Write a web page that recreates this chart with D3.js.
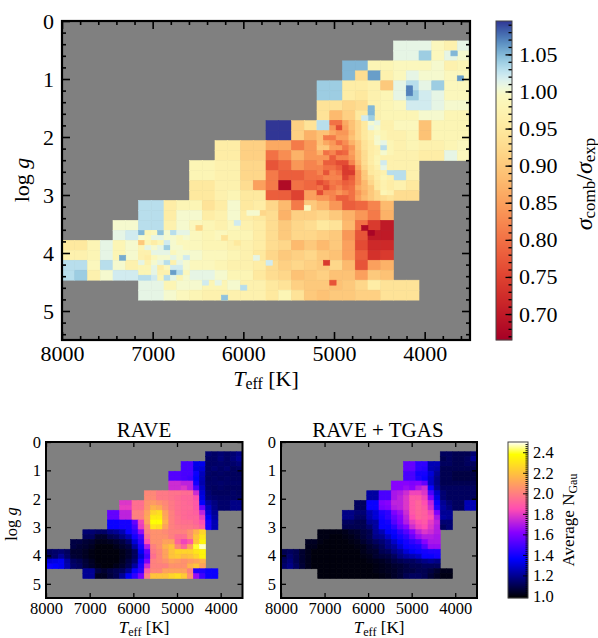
<!DOCTYPE html>
<html><head><meta charset="utf-8">
<script src="https://cdn.jsdelivr.net/npm/d3@7"></script>
<style>
html,body{margin:0;padding:0;background:#fff}
svg{display:block}
text{font-family:"Liberation Serif",serif;fill:#000}
.i{font-style:italic}
</style></head><body>
<svg id="c" width="598" height="638"></svg>
<script>
// All maps share a 32 x 32 grid over Teff 8000-3500 K, log g 0-5.5. Rows start at grid row 2.
const TEFF_RANGE=[8000,3500], LOGG_RANGE=[0,5.5], BINS=32, FIRST_ROW=2;
const teffMajor=[8000,7000,6000,5000,4000];
const loggMajor=[0,1,2,3,4,5];
const ratioTicks=[0.70,0.75,0.80,0.85,0.90,0.95,1.00,1.05];
const gauTicks=[1.0,1.2,1.4,1.6,1.8,2.0,2.2,2.4];
const titles=["RAVE","RAVE + TGAS"];

// first occupied Teff bin in each row
const commonFirstBin=[26,26,22,22,20,20,20,20,16,16,12,12,10,10,10,10,6,6,4,4,0,0,0,0,6,6];
const tgasFirstBin=[26,26,20,20,20,20,18,18,14,14,12,12,10,10,10,10,6,6,4,4,0,0,0,0,6,6];

// sigma_comb / sigma_exp x 100
const ratioRows=[
[101,101,101,99,97,101],
[101,101,104,99,101,100],
[105,105,98,98,99,99,99,100,97,98],
[105,93,106,97,99,101,100,100,99,99],
[104,104,96,96,97,90,101,103,101,104,99,99],
[104,104,96,95,97,98,101,104,102,101,99,99],
[94,94,92,93,97,98,99,102,102,101,100,100],
[94,88,91,95,97,98,98,98,100,100,98,98],
[109.5,109.5,91,94,102,80,87,92,97,98,99,99,89,98,98,98],
[109.5,109.5,91,87,89,82,86,90,97,97,97,98,89,98,98,98],
[96,96,91,91,86,86,81,84,84,81,82,88,94,97,97,98,97,97,98,99],
[96,96,91,91,80,83,87,84,84,80,82,88,95,97,97,97,96,96,101,99],
[98,98,97,97,92,92,77,79,84,82,82,80,77,82,90,95,97,97],
[98,98,97,97,92,92,81,78,78,80,79,76,78,81,89,95,103,97],
[95,95,97,97,93,85,81,68,80,79,76,78,78,83,89,95,97,95],
[95,95,97,98,95,95,78,78,75,85,82,80,80,85,90,95,93,93],
[103,103,96,98,98,94,96,100,95,96,92,88,81,90,88,84,78,79,82,88],
[103,103,96,100,100,96,97,100,96,95,93,87,91,91,92,90,87,84,81,87],
[100,100,103,103,97,100,99,98,97,99,97,96,93,90,92,93,95,94,88,80,74,70],
[101,102,102,98,102,101,99,98,99,98,98,96,93,90,92,92,91,90,84,77,70,70],
[95,95,98,101,98,100,97,97,98,99,99,98,98,97,97,96,93,92,88,90,88,90,85,76,72,72],
[97,97,98,101,98,100,97,99,101,101,100,99,99,98,97,95,92,90,91,92,90,89,85,78,73,74],
[103,103,99,103,100,97,100,98,101,100,99,99,98,97,97,96,93,91,92,91,90,92,88,77,85,87],
[103,104,97,100,102,102,103,102,97,103,101,101,100,98,98,95,93,92,89,90,91,89,89,85,90,89],
[101,101,98,100,100,98,98,100,97,97,95,94,91,90,90,89,90,92,96,94,94,94],
[101,101,100,99,98,97,97,97,97,97,95,98,94,90,89,90,90,91,91,94,94,94]
];
// finest bins (64 x 64 grid) that stand out from their neighbours: [col, row, value x 100]
const ratioFineBins=[
[54,13,107],[54,14,107],[48,17,105],[48,18,105],[48,19,104],[47,19,102],[61,6,105],[62,11,106],
[9,47,105.5],[25,55,104.5],[28,53,103],[21,41,92],[25,43,94],[27,44,95],[31,38,92],[27,40,102],
[22,52,102],[24,52,101],
[47,41,68],[48,42,67],[41,48,74],[42,52,77],[38,37,99],[29,38,100],[30,38,100],[32,48,102],[30,47,101]
];
// fine-grid blocks: the red ridge, starting at col 40, row 20
const ridgeStart=[40,20];
const ridgeBins=[
[103,103,80,80,86,89,92,95,100,101,97,97],
[103,103,84,76,85,89,92,95,101,100,97,97],
[89,89,86,84,84,88,92,95,97,99,98,97],
[89,81,81,85,85,89,92,95,97,100,98,97],
[89,86,84,80,83,87,90,94,96,100,101,98],
[90,90,85,85,81,84,90,94,96,97,103,98],
[87,80,82,78,79,85,89,93,96,97,100,98],
[84,84,78,82,82,84,89,93,96,98,97,97],
[84,78,78,76,76,82,88,93,96,98,102,97],
[82,80,80,78,74,76,86,92,95,97,101,97],
[82,77,82,80,74,74,84,90,95,96,97,103],
[80,82,82,82,75,78,84,90,93,96,98,97],
[76,78,81,80,78,79,84,88,92,95,97,96],
[80,76,80,82,79,80,86,88,90,95,97,96],
[76,82,82,84,82,80,84,87,90,92,98,97],
[84,84,82,78,78,80,85,88,90,92,93,94]
];
// fine-grid block near 7000 K, starting at col 12, row 42
const hotStart=[12,42];
const hotBins=[
[105,98,99,104.5,100,103,101,101],
[100,99,101,101,100,100,99,100],
[90,98,96,98,102,100,99,99],
[98,101,100,101,104,100,100,99],
[97,97,101,101,101,99,100,100],
[97,96,99,100,100,101,100,102],
[101,97,100,101,103,97,101,100],
[98,98,101,96,99,102,102,100],
[98,98,101,97,97,106,103,99],
[103,103,102,98,103,101,98,100]
];

// average N_Gau x 100, RAVE
const raveRows=[
[115,113,115,113,115,118],
[113,113,116,113,116,120],
[150,150,133,133,113,113,114,113,114,116],
[150,150,132,130,113,115,113,115,112,113],
[152,152,150,150,138,126,113,112,113,112,112,112],
[152,152,150,148,136,125,112,113,112,113,112,112],
[175,175,172,172,140,124,113,113,114,113,113,113],
[175,175,178,172,150,127,113,112,113,112,112,112],
[202,202,198,198,196,196,194,194,175,130,115,112,112,112,113,112],
[203,203,198,198,196,194,192,192,185,132,116,114,113,113,113,113],
[178,178,195,195,205,208,205,202,198,195,193,192,188,136,122,117,114,114,118,118],
[180,180,195,195,206,215,212,204,198,195,193,193,188,155,127,118,114,114,118,118],
[155,155,172,172,200,200,210,225,228,210,200,195,193,192,190,172,130,120],
[155,155,172,172,200,200,212,232,232,212,200,196,193,192,192,180,135,122],
[138,138,140,140,155,182,210,238,238,215,200,196,195,195,192,185,140,125],
[138,138,140,140,150,180,202,230,228,210,200,198,197,197,195,190,140,125],
[115,115,113,113,118,120,125,138,145,165,200,205,205,203,200,200,200,205,215,225],
[112,112,105,105,110,112,118,125,140,150,195,205,205,205,200,195,195,205,220,230],
[108,108,106,105,102,102,103,105,108,114,130,145,185,205,205,210,210,192,182,188,220,235],
[108,106,105,103,100,100,100,102,105,108,122,140,170,200,205,215,220,202,192,210,240,247],
[112,114,115,112,105,105,103,101,100,100,100,100,102,105,112,135,155,198,202,210,220,225,225,225,230,235],
[112,114,120,113,106,105,103,101,100,100,100,100,102,105,112,130,150,195,202,210,220,222,218,220,225,235],
[130,132,134,122,112,110,106,103,100,100,100,100,103,108,115,138,160,200,202,205,210,208,205,208,210,215],
[138,136,134,124,114,112,107,104,101,100,100,102,105,110,122,142,175,200,200,200,205,205,205,215,220,210],
[120,120,108,105,108,110,112,120,138,145,190,202,202,210,210,210,210,200,142,142,138,138],
[120,120,103,103,107,110,120,135,145,160,200,220,220,220,225,228,222,205,165,148,138,138]
];
// average N_Gau x 100, RAVE + TGAS
const tgasRows=[
[112,112,110,110,110,115],
[110,112,110,110,112,120],
[155,155,145,145,125,125,112,112,110,110,112,112],
[155,155,145,143,125,123,110,110,110,110,110,110],
[150,150,140,140,130,120,110,110,108,108,108,108],
[150,150,142,138,128,118,110,110,108,108,108,108],
[162,162,162,160,162,155,128,118,110,110,110,110,110,110],
[162,162,165,162,170,175,138,120,112,112,112,112,112,112],
[122,122,150,150,168,170,175,182,182,178,150,128,115,112,112,112,112,112],
[122,122,150,150,168,172,178,188,188,182,160,132,115,112,112,112,112,112],
[112,112,138,138,160,162,172,172,178,188,192,185,172,138,120,115,112,112,125,125],
[112,112,138,138,158,160,170,172,178,188,192,188,175,142,122,117,112,112,125,125],
[118,118,115,115,125,130,142,145,160,165,175,188,192,190,182,160,120,120],
[118,118,113,113,124,130,140,145,155,162,172,185,192,190,185,168,122,120],
[112,112,110,110,120,122,138,140,152,160,170,180,185,188,180,172,115,115],
[110,110,110,110,115,122,138,138,145,155,162,175,182,185,178,170,112,115],
[101,101,101,101,102,104,105,108,110,120,125,135,138,145,152,162,172,178,175,170],
[101,101,100,100,101,102,104,107,110,118,120,128,135,140,145,155,165,170,170,168],
[103,103,101,100,100,100,100,101,102,105,108,112,115,120,128,135,140,145,150,162,168,168],
[102,102,100,100,100,100,100,100,101,102,105,108,112,118,122,130,138,140,142,152,165,165],
[110,112,110,105,102,100,100,100,100,100,100,100,100,102,104,105,110,112,118,122,130,135,138,140,142,142],
[110,114,110,105,102,100,100,100,100,100,100,100,100,101,102,105,107,108,112,118,122,125,128,138,138,140],
[112,116,110,105,102,100,100,100,100,100,100,100,100,100,101,102,103,105,108,110,112,112,115,118,120,118],
[114,118,112,106,102,100,100,100,100,100,100,100,100,100,100,101,102,103,105,106,108,110,110,112,112,112],
[100,100,100,100,100,100,100,100,100,101,102,103,104,106,108,108,110,110,108,105,102,102],
[100,100,100,100,100,100,100,100,100,100,101,102,104,106,110,112,112,110,106,103,101,101]
];

// ---------- colours
const ratioDomain=[0.665,1.095];
const ratioT=d3.scaleLinear().domain([0.665,0.995,1.095]).range([0,0.5,1]).clamp(true);
const ratioColor=v=>d3.interpolateRdYlBu(ratioT(v));
const gauDomain=[0.98,2.5];
const gauT=d3.scaleLinear().domain(gauDomain).range([0,1]).clamp(true);
function gnuplot2(t){
  const r=Math.min(1,Math.max(0,t/0.32-0.78125));
  const g=Math.min(1,Math.max(0,2*t-0.84));
  const b=t<0.25?4*t:t<0.42?1:t<0.92?Math.max(0,-2*t+1.84):Math.min(1,t/0.08-11.5);
  return d3.rgb(r*255,g*255,b*255).formatRgb();
}
const gauColor=v=>gnuplot2(gauT(v));

// ---------- layout
const svg=d3.select("#c");
const GRAY="#808080";
const teffStep=(TEFF_RANGE[0]-TEFF_RANGE[1])/BINS, loggStep=LOGG_RANGE[1]/BINS;

function addTicks(g,x,y,w,h,o){
  const draw=(axis,tr)=>{
    const a=g.append("g").attr("transform",tr).call(axis);
    a.selectAll(".tick line").attr("stroke","#000").attr("stroke-width",o.tw);
    a.select(".domain").attr("stroke","none");
    return a;
  };
  const blank=()=>"";
  const sides=[[d3.axisBottom,x,`translate(0,${h})`,o.xMinor,o.xMajor],[d3.axisTop,x,"translate(0,0)",o.xMinor,o.xMajor],
               [d3.axisLeft,y,"translate(0,0)",o.yMinor,o.yMajor],[d3.axisRight,y,`translate(${w},0)`,o.yMinor,o.yMajor]];
  sides.forEach(([mk,sc,tr,minor,major],i)=>{
    if(minor.length) draw(mk(sc).tickValues(minor).tickSize(-o.lm).tickSizeOuter(0).tickFormat(blank),tr);
    const ax=mk(sc).tickValues(major).tickSize(-o.l).tickSizeOuter(0);
    if(i===0) ax.tickPadding(o.padX).tickFormat(d3.format("d"));
    else if(i===2) ax.tickPadding(o.padY).tickFormat(d3.format("d"));
    else ax.tickFormat(blank);
    const a=draw(ax,tr);
    a.selectAll("text").style("font-size",o.fs+"px").style("font-family","Liberation Serif");
  });
  g.append("rect").attr("width",w).attr("height",h).attr("fill","none").attr("stroke","#000").attr("stroke-width",o.sw);
}

function panel(box,rows,firstBin,color,fine,o){
  const g=svg.append("g").attr("transform",`translate(${box[0]},${box[1]})`);
  const w=box[2]-box[0],h=box[3]-box[1];
  const x=d3.scaleLinear().domain(TEFF_RANGE).range([0,w]);
  const y=d3.scaleLinear().domain(LOGG_RANGE).range([0,h]);
  g.append("rect").attr("width",w).attr("height",h).attr("fill",GRAY);
  const cells=[];
  rows.forEach((row,i)=>row.forEach((v,j)=>cells.push({r:i+FIRST_ROW,c:firstBin[i]+j,v:v/100,n:1})));
  fine.forEach(([c,r,v])=>cells.push({r,c,v:v/100,n:2}));
  g.selectAll("rect.cell").data(cells).join("rect").attr("class","cell")
    .attr("x",d=>x(TEFF_RANGE[0]-d.c*teffStep/d.n))
    .attr("y",d=>y(d.r*loggStep/d.n))
    .attr("width",d=>x(TEFF_RANGE[0]-(d.c+1)*teffStep/d.n)-x(TEFF_RANGE[0]-d.c*teffStep/d.n))
    .attr("height",d=>y((d.r+1)*loggStep/d.n)-y(d.r*loggStep/d.n))
    .attr("fill",d=>color(d.v)).attr("stroke",d=>color(d.v)).attr("stroke-width",0.6);
  const xMinor=o.minor?d3.range(7800,3500,-200).filter(t=>t%1000):[];
  const yMinor=o.minor?d3.range(0.2,5.5,0.2).filter(t=>Math.abs(t-Math.round(t))>0.01):[];
  addTicks(g,x,y,w,h,{...o,xMajor:teffMajor,yMajor:loggMajor,xMinor,yMinor});
  return g;
}

function colorbar(box,domain,color,ticks,minor,o){
  const g=svg.append("g").attr("transform",`translate(${box[0]},${box[1]})`);
  const w=box[2]-box[0],h=box[3]-box[1];
  const s=d3.scaleLinear().domain(domain).range([h,0]);
  g.selectAll("rect.b").data(d3.range(0,Math.ceil(h))).join("rect").attr("class","b")
    .attr("x",0).attr("y",d=>d).attr("width",w).attr("height",1.2)
    .attr("fill",d=>color(s.invert(d+0.5)));
  const m=g.append("g").attr("transform",`translate(${w},0)`).call(d3.axisRight(s).tickValues(minor).tickSize(-o.lm).tickSizeOuter(0).tickFormat(()=>""));
  m.select(".domain").attr("stroke","none");
  m.selectAll(".tick line").attr("stroke","#000").attr("stroke-width",o.tw);
  const a=g.append("g").attr("transform",`translate(${w},0)`).call(d3.axisRight(s).tickValues(ticks).tickSize(-o.l).tickSizeOuter(0).tickPadding(o.pad).tickFormat(d3.format(o.fmt)));
  a.select(".domain").attr("stroke","none");
  a.selectAll(".tick line").attr("stroke","#000").attr("stroke-width",o.tw);
  a.selectAll("text").style("font-size",o.fs+"px").style("font-family","Liberation Serif");
  g.append("rect").attr("width",w).attr("height",h).attr("fill","none").attr("stroke","#444").attr("stroke-width",1);
}

function teffLabel(cx,y,fs){
  const t=svg.append("text").attr("x",cx).attr("y",y).attr("text-anchor","middle").style("font-size",fs+"px");
  t.append("tspan").attr("class","i").text("T");
  t.append("tspan").attr("dy",fs*0.15).style("font-size",fs*0.72+"px").text("eff");
  t.append("tspan").attr("dy",-fs*0.15).text(" [K]");
}
function loggLabel(bx,cy,fs){
  const t=svg.append("text").attr("transform",`translate(${bx},${cy}) rotate(-90)`).attr("text-anchor","middle").style("font-size",fs+"px");
  t.append("tspan").text("log ");
  t.append("tspan").attr("class","i").text("g");
}
const blockBins=([c0,r0],rows)=>rows.flatMap((row,i)=>row.map((v,j)=>[c0+j,r0+i,v]));

// ---------- main map
panel([62,21,470,340],ratioRows,commonFirstBin,ratioColor,
  [...blockBins(ridgeStart,ridgeBins),...blockBins(hotStart,hotBins),...ratioFineBins],
  {minor:true,l:8,lm:4,tw:1.6,sw:2.2,fs:22,padX:5.5,padY:8});
teffLabel(266,386,22);
loggLabel(29,180,22);
colorbar([496,21,512,340],ratioDomain,ratioColor,ratioTicks,d3.range(0.67,1.095,0.01),
  {l:6.5,lm:3.5,tw:1.3,pad:7,fs:22,fmt:".2f"});
{
  const t=svg.append("text").attr("transform","translate(592,184) rotate(-90)").attr("text-anchor","middle").style("font-size","24px");
  t.append("tspan").attr("class","i").text("σ");
  t.append("tspan").attr("dy",2.5).style("font-size","17px").text("comb");
  t.append("tspan").attr("dy",-2.5).text("/");
  t.append("tspan").attr("class","i").text("σ");
  t.append("tspan").attr("dy",2.5).style("font-size","17px").text("exp");
}

// ---------- lower maps
const smallOpts={minor:false,l:5,lm:0,tw:1.3,sw:2,fs:16.5,padX:4,padY:5};
panel([46,442,242.5,598],raveRows,commonFirstBin,gauColor,[],smallOpts);
panel([281,442,477,598],tgasRows,tgasFirstBin,gauColor,[],smallOpts);
[[144,titles[0]],[378,titles[1]]].forEach(([cx,s])=>svg.append("text").attr("x",cx).attr("y",436.5).attr("text-anchor","middle").style("font-size","21px").text(s));
teffLabel(144,633,17);
teffLabel(379,633,17);
loggLabel(17,524,16.5);
colorbar([508,442,528,598],gauDomain,gauColor,gauTicks,d3.range(1.0,2.5,0.02),
  {l:5,lm:2.5,tw:0.9,pad:5,fs:16.5,fmt:".1f"});
{
  const t=svg.append("text").attr("transform","translate(574,520) rotate(-90)").attr("text-anchor","middle").style("font-size","17px");
  t.append("tspan").text("Average N");
  t.append("tspan").attr("dy",3).style("font-size","12px").text("Gau");
}
</script>
</body></html>
